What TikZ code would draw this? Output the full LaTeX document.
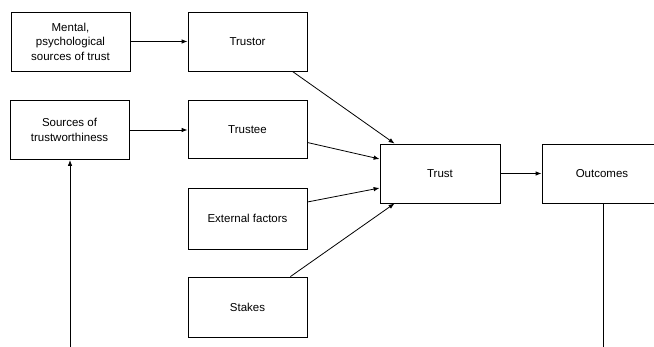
\documentclass[tikz,border=0pt]{standalone}
\usepackage{fontspec}
\setmainfont{Liberation Sans}
\usetikzlibrary{arrows.meta}
\begin{document}
\begin{tikzpicture}[x=1pt,y=-1pt,
  box/.style={draw, line width=0.8pt, minimum width=119pt, minimum height=59pt, align=center, inner sep=0pt, font=\fontsize{11.5}{14.5}\selectfont},
  arr/.style={line width=0.8pt, -{Latex[length=6pt,width=4.5pt]}},
  ln/.style={line width=0.8pt}]
\useasboundingbox (0,0) rectangle (654,347);
\clip (0,0) rectangle (654,347);
\node[box] (mental) at (70.5,41.5) {Mental,\\psychological\\sources of trust};
\node[box] (trustor) at (247.5,41.5) {Trustor};
\node[box] (sources) at (69.5,130) {Sources of\\trustworthiness};
\node[box, minimum height=58pt] (trustee) at (247.5,129.5) {Trustee};
\node[box, minimum height=61pt] (external) at (247.5,218.5) {External factors};
\node[box, minimum height=60pt] (stakes) at (247.5,307) {Stakes};
\node[box, minimum width=120pt] (trust) at (440,173.5) {Trust};
\node[box, minimum width=120pt] (outcomes) at (602,173.5) {Outcomes};
\coordinate (b1) at (70,347);
\coordinate (b2) at (603,347);
\draw[arr] (mental) -- (trustor);
\draw[arr] (sources.east) -- (sources.east -| trustee.west);
\draw[arr] ([xshift=-15pt]trustor.south east) -- ([xshift=15pt]trust.north west);
\draw[arr] ([yshift=-13pt]trustee.east) -- ([yshift=14.5pt]trust.west);
\draw[arr] ([yshift=16.5pt]external.east) -- ([yshift=-14.5pt]trust.west);
\draw[arr] ([xshift=-17pt]stakes.north east) -- ([xshift=15pt]trust.south west);
\draw[arr] (trust) -- (outcomes);
\draw[arr] (b1) -- (b1 |- sources.south);
\draw[ln] (outcomes.south -| b2) -- (b2);
\end{tikzpicture}
\end{document}
